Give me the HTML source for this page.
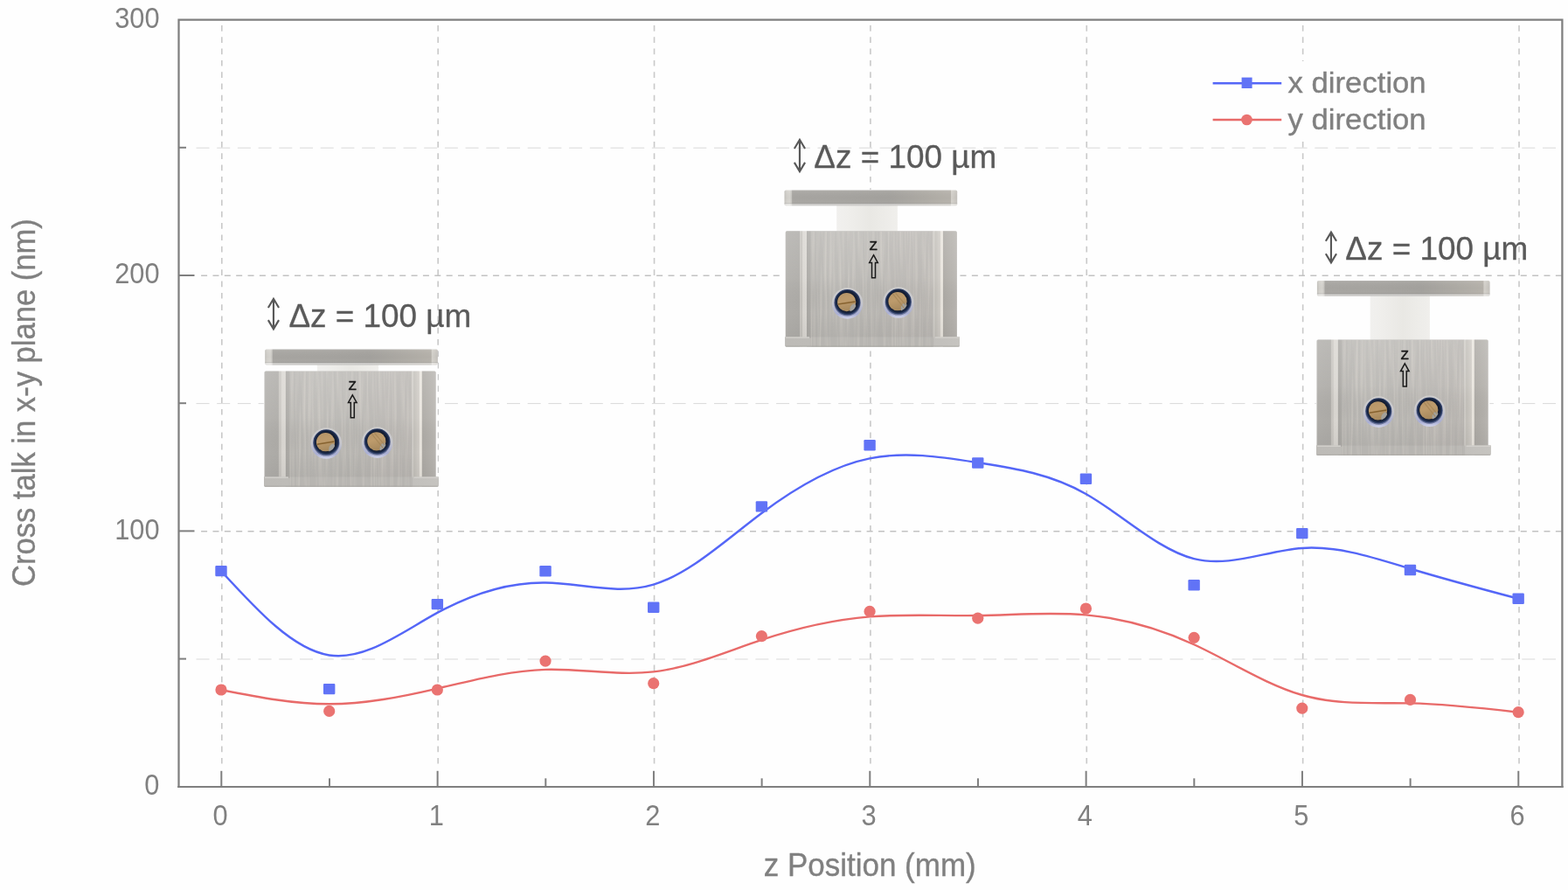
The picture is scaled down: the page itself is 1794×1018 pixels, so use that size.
<!DOCTYPE html>
<html lang="en"><head><meta charset="utf-8"><title>Cross talk in x-y plane vs z Position</title>
<style>
html,body{margin:0;padding:0;background:#fefefe;}
body{width:1794px;height:1018px;overflow:hidden;font-family:"Liberation Sans", sans-serif;}
svg{display:block;}
</style></head><body>
<svg width="1794" height="1018" viewBox="0 0 1794 1018" font-family='"Liberation Sans", sans-serif'>
<rect width="1794" height="1018" fill="#fefefe"/>
<g stroke="#c9c9c9" stroke-width="1.6" fill="none">
<line x1="253.8" y1="29" x2="253.8" y2="879" stroke-dasharray="6.7 6.6"/>
<line x1="501.17" y1="29" x2="501.17" y2="879" stroke-dasharray="6.7 6.6"/>
<line x1="748.54" y1="29" x2="748.54" y2="879" stroke-dasharray="6.7 6.6"/>
<line x1="995.91" y1="29" x2="995.91" y2="879" stroke-dasharray="6.7 6.6"/>
<line x1="1243.28" y1="29" x2="1243.28" y2="879" stroke-dasharray="6.7 6.6"/>
<line x1="1490.65" y1="29" x2="1490.65" y2="879" stroke-dasharray="6.7 6.6"/>
<line x1="1738.02" y1="29" x2="1738.02" y2="879" stroke-dasharray="6.7 6.6"/>
<line x1="230.1" y1="607.7" x2="1787.4" y2="607.7" stroke-dasharray="7 6.36" stroke-width="1.4" stroke="#c2c2c2"/>
<line x1="230.1" y1="315.3" x2="1787.4" y2="315.3" stroke-dasharray="7 6.36" stroke-width="1.4" stroke="#c2c2c2"/>
</g>
<g stroke="#d9d9d9" stroke-width="1" fill="none" stroke-dasharray="15 8.7">
<line x1="224.5" y1="754" x2="1787.4" y2="754"/>
<line x1="224.5" y1="461.6" x2="1787.4" y2="461.6"/>
<line x1="224.5" y1="169.2" x2="1787.4" y2="169.2"/>
</g>
<path d="M253 653.1C294.23 698.1 335.45 743.1 376.68 749.43C417.91 755.77 459.13 723.43 500.36 700.95C541.59 678.47 582.81 665.83 624.04 666.45C665.27 667.07 706.49 680.93 747.72 668.63C788.95 656.33 830.17 617.87 871.4 586.95C912.63 556.03 953.85 532.67 995.08 524.35C1036.31 516.03 1077.53 522.77 1118.76 529.18C1159.99 535.6 1201.21 541.7 1242.44 564.98C1283.67 588.27 1324.89 628.73 1366.12 639.12C1407.35 649.5 1448.57 629.8 1489.8 626.93C1531.03 624.07 1572.25 638.03 1613.48 650.48C1654.71 662.93 1695.93 673.87 1737.16 684.8" fill="none" stroke="#5466f7" stroke-width="2.45"/>
<path d="M253 789C294.23 797.13 335.45 805.27 376.68 805.27C417.91 805.27 459.13 797.13 500.36 787.58C541.59 778.03 582.81 767.07 624.04 765.85C665.27 764.63 706.49 773.17 747.72 768.42C788.95 763.67 830.17 745.63 871.4 731.92C912.63 718.2 953.85 708.8 995.08 705.4C1036.31 702 1077.53 704.6 1118.76 704.03C1159.99 703.47 1201.21 699.73 1242.44 703.42C1283.67 707.1 1324.89 718.2 1366.12 737.22C1407.35 756.23 1448.57 783.17 1489.8 795.02C1531.03 806.87 1572.25 803.63 1613.48 804.4C1654.71 805.17 1695.93 809.93 1737.16 814.7" fill="none" stroke="#e86a69" stroke-width="2.4"/>
<g fill="#6173f6">
<rect x="246.3" y="646.9" width="13.4" height="12.4" rx="1.2"/>
<rect x="369.98" y="781.9" width="13.4" height="12.4" rx="1.2"/>
<rect x="493.66" y="684.9" width="13.4" height="12.4" rx="1.2"/>
<rect x="617.34" y="647" width="13.4" height="12.4" rx="1.2"/>
<rect x="741.02" y="688.6" width="13.4" height="12.4" rx="1.2"/>
<rect x="864.7" y="573.2" width="13.4" height="12.4" rx="1.2"/>
<rect x="988.38" y="503.1" width="13.4" height="12.4" rx="1.2"/>
<rect x="1112.06" y="523.3" width="13.4" height="12.4" rx="1.2"/>
<rect x="1235.74" y="541.6" width="13.4" height="12.4" rx="1.2"/>
<rect x="1359.42" y="663" width="13.4" height="12.4" rx="1.2"/>
<rect x="1483.1" y="603.9" width="13.4" height="12.4" rx="1.2"/>
<rect x="1606.78" y="645.8" width="13.4" height="12.4" rx="1.2"/>
<rect x="1730.46" y="678.6" width="13.4" height="12.4" rx="1.2"/>
</g>
<g fill="#ea7371">
<circle cx="253" cy="789" r="6.6"/>
<circle cx="376.68" cy="813.4" r="6.6"/>
<circle cx="500.36" cy="789" r="6.6"/>
<circle cx="624.04" cy="756.1" r="6.6"/>
<circle cx="747.72" cy="781.7" r="6.6"/>
<circle cx="871.4" cy="727.6" r="6.6"/>
<circle cx="995.08" cy="699.4" r="6.6"/>
<circle cx="1118.76" cy="707.2" r="6.6"/>
<circle cx="1242.44" cy="696" r="6.6"/>
<circle cx="1366.12" cy="729.3" r="6.6"/>
<circle cx="1489.8" cy="810.1" r="6.6"/>
<circle cx="1613.48" cy="800.4" r="6.6"/>
<circle cx="1737.16" cy="814.7" r="6.6"/>
</g>
<g stroke="#7f7f7f" fill="none">
<path d="M204.5 901V22.6H1787.4V900.8" stroke-width="2.25" stroke-linejoin="miter"/>
<line x1="203.2" y1="899.9" x2="1788.7" y2="899.9" stroke-width="2"/>
<g stroke-width="2">
<line x1="253.3" y1="899.8" x2="253.3" y2="881.8"/>
<line x1="376.97" y1="899.8" x2="376.97" y2="890.3"/>
<line x1="500.63" y1="899.8" x2="500.63" y2="881.8"/>
<line x1="624.3" y1="899.8" x2="624.3" y2="890.3"/>
<line x1="747.96" y1="899.8" x2="747.96" y2="881.8"/>
<line x1="871.62" y1="899.8" x2="871.62" y2="890.3"/>
<line x1="995.29" y1="899.8" x2="995.29" y2="881.8"/>
<line x1="1118.96" y1="899.8" x2="1118.96" y2="890.3"/>
<line x1="1242.62" y1="899.8" x2="1242.62" y2="881.8"/>
<line x1="1366.29" y1="899.8" x2="1366.29" y2="890.3"/>
<line x1="1489.95" y1="899.8" x2="1489.95" y2="881.8"/>
<line x1="1613.62" y1="899.8" x2="1613.62" y2="890.3"/>
<line x1="1737.28" y1="899.8" x2="1737.28" y2="881.8"/>
<line x1="204.5" y1="753.6" x2="213" y2="753.6"/>
<line x1="204.5" y1="607.4" x2="222.5" y2="607.4"/>
<line x1="204.5" y1="461.2" x2="213" y2="461.2"/>
<line x1="204.5" y1="315" x2="222.5" y2="315"/>
<line x1="204.5" y1="168.8" x2="213" y2="168.8"/>
</g></g>
<g fill="#808080">
<text transform="translate(252.1 943.95) scale(1 1.105)" font-size="30.8" text-anchor="middle">0</text>
<text transform="translate(499.43 943.95) scale(1 1.105)" font-size="30.8" text-anchor="middle">1</text>
<text transform="translate(746.76 943.95) scale(1 1.105)" font-size="30.8" text-anchor="middle">2</text>
<text transform="translate(994.09 943.95) scale(1 1.105)" font-size="30.8" text-anchor="middle">3</text>
<text transform="translate(1241.42 943.95) scale(1 1.105)" font-size="30.8" text-anchor="middle">4</text>
<text transform="translate(1488.75 943.95) scale(1 1.105)" font-size="30.8" text-anchor="middle">5</text>
<text transform="translate(1736.08 943.95) scale(1 1.105)" font-size="30.8" text-anchor="middle">6</text>
<text transform="translate(182.5 908.9) scale(1 1.105)" font-size="30.8" text-anchor="end">0</text>
<text transform="translate(182.5 616.5) scale(1 1.105)" font-size="30.8" text-anchor="end">100</text>
<text transform="translate(182.5 324.1) scale(1 1.105)" font-size="30.8" text-anchor="end">200</text>
<text transform="translate(182.5 31.7) scale(1 1.105)" font-size="30.8" text-anchor="end">300</text>
</g>
<g fill="#808080">
<text transform="translate(995.2 1001.5) scale(1 1.04)" font-size="35" text-anchor="middle" stroke="#808080" stroke-width="0.35">z Position (mm)</text>
<text transform="translate(40.1 460.6) rotate(-90) scale(1 1.045)" font-size="34.6" text-anchor="middle" stroke="#808080" stroke-width="0.35">Cross talk in x-y plane (nm)</text>
</g>
<rect x="1380" y="70" width="262" height="92" fill="#fefefe"/>
<line x1="1387.6" y1="95.2" x2="1466.2" y2="95.2" stroke="#5466f7" stroke-width="2.45"/>
<rect x="1420.6" y="88.6" width="12" height="12.4" fill="#6173f6"/>
<line x1="1387.6" y1="137" x2="1466.2" y2="137" stroke="#e86a69" stroke-width="2.4"/>
<circle cx="1426.5" cy="137" r="6.3" fill="#ea7371"/>
<g fill="#808080" stroke="#808080" stroke-width="0.4"><text transform="translate(1473.6 106.1) scale(1 0.94)" font-size="34.7" text-anchor="start">x direction</text><text transform="translate(1473.6 148.1) scale(1 0.94)" font-size="34.7" text-anchor="start">y direction</text></g>
<defs>
<linearGradient id="gFace" gradientUnits="userSpaceOnUse" x1="0" x2="199" y1="0" y2="0">
 <stop offset="0" stop-color="#b8b6b2"/><stop offset="0.012" stop-color="#b1afab"/><stop offset="0.082" stop-color="#aeaca8"/>
 <stop offset="0.085" stop-color="#c8c5c0"/><stop offset="0.094" stop-color="#cac7c2"/><stop offset="0.096" stop-color="#c0bdb8"/>
 <stop offset="0.099" stop-color="#d9d6d1"/><stop offset="0.122" stop-color="#dcd9d4"/><stop offset="0.126" stop-color="#aaa8a4"/>
 <stop offset="0.142" stop-color="#adaba7"/><stop offset="0.15" stop-color="#b6b4b0"/><stop offset="0.3" stop-color="#bab8b4"/><stop offset="0.5" stop-color="#b7b5b1"/>
 <stop offset="0.7" stop-color="#bab7b3"/><stop offset="0.849" stop-color="#b8b5b1"/><stop offset="0.852" stop-color="#d2cfca"/>
 <stop offset="0.859" stop-color="#cfccc6"/><stop offset="0.862" stop-color="#c2bfb9"/><stop offset="0.893" stop-color="#d2cec8"/><stop offset="0.896" stop-color="#ece8e1"/>
 <stop offset="0.906" stop-color="#e6e2db"/><stop offset="0.91" stop-color="#adaaa5"/><stop offset="0.96" stop-color="#b4b1ac"/><stop offset="1" stop-color="#bbb8b4"/>
</linearGradient>
<linearGradient id="gShade" x1="0" x2="0" y1="0" y2="1">
 <stop offset="0" stop-color="#fff" stop-opacity="0.16"/><stop offset="0.4" stop-color="#fff" stop-opacity="0.06"/><stop offset="0.7" stop-color="#000" stop-opacity="0.01"/><stop offset="1" stop-color="#000" stop-opacity="0.06"/>
</linearGradient>
<linearGradient id="gLip" gradientUnits="userSpaceOnUse" x1="0" x2="199" y1="0" y2="0">
 <stop offset="0" stop-color="#bdbbb7"/><stop offset="0.14" stop-color="#bebcb8"/><stop offset="0.16" stop-color="#b6b4b0"/><stop offset="0.84" stop-color="#b8b6b2"/><stop offset="0.86" stop-color="#c2c0bc"/><stop offset="1" stop-color="#c6c4c0"/>
</linearGradient>
<linearGradient id="gPlate" gradientUnits="userSpaceOnUse" x1="0" x2="199" y1="0" y2="0">
 <stop offset="0" stop-color="#c4c2bd"/><stop offset="0.012" stop-color="#d3d1cc"/><stop offset="0.03" stop-color="#d8d6d1"/><stop offset="0.04" stop-color="#cac8c3"/>
 <stop offset="0.046" stop-color="#a9a7a3"/><stop offset="0.3" stop-color="#a8a6a2"/><stop offset="0.6" stop-color="#a5a39f"/><stop offset="0.8" stop-color="#afaca6"/>
 <stop offset="0.955" stop-color="#b7b3ac"/><stop offset="0.96" stop-color="#d6d3cd"/><stop offset="0.975" stop-color="#cfccc6"/><stop offset="1" stop-color="#c2bfba"/>
</linearGradient>
<linearGradient id="gPlateV" x1="0" x2="0" y1="0" y2="1">
 <stop offset="0" stop-color="#fff" stop-opacity="0.2"/><stop offset="0.08" stop-color="#fff" stop-opacity="0.03"/><stop offset="0.5" stop-color="#000" stop-opacity="0.02"/><stop offset="0.8" stop-color="#000" stop-opacity="0.0"/><stop offset="0.88" stop-color="#fff" stop-opacity="0.4"/><stop offset="1" stop-color="#fff" stop-opacity="0.45"/>
</linearGradient>
<linearGradient id="gPis" x1="0" x2="1" y1="0" y2="0">
 <stop offset="0" stop-color="#f1f0ee"/><stop offset="0.2" stop-color="#efeeeb"/><stop offset="0.55" stop-color="#e9e8e4"/><stop offset="1" stop-color="#f0efec"/>
</linearGradient>
<linearGradient id="gBrass" x1="0" x2="0.3" y1="0" y2="1">
 <stop offset="0" stop-color="#b59468"/><stop offset="0.5" stop-color="#bd9b6c"/><stop offset="1" stop-color="#a88a5e"/>
</linearGradient>
<radialGradient id="gNavy" cx="0.5" cy="0.47" r="0.5">
 <stop offset="0.72" stop-color="#131b2f"/><stop offset="0.86" stop-color="#1b2947"/><stop offset="0.95" stop-color="#34446f"/><stop offset="1" stop-color="#6a7499"/>
</radialGradient>
<linearGradient id="gRing" x1="0" x2="0" y1="0" y2="1">
 <stop offset="0" stop-color="#cecdcc"/><stop offset="0.5" stop-color="#c6c6cc"/><stop offset="0.85" stop-color="#a9aed4"/><stop offset="1" stop-color="#d3d6ec"/>
</linearGradient>
<filter id="fBrush" x="0" y="0" width="100%" height="100%" color-interpolation-filters="sRGB">
 <feTurbulence type="fractalNoise" baseFrequency="0.35 0.012" numOctaves="2" seed="7" result="n"/>
 <feColorMatrix in="n" type="matrix" values="0 0 0 0 1  0 0 0 0 0.97  0 0 0 0 0.93  0.55 0 0 0 -0.22"/>
 <feComposite in2="SourceGraphic" operator="in"/>
</filter>
<g id="devBody">
 <path d="M2 0H195Q196.6 0 196.6 1.6V121.1H199.6V130.6Q199.6 132.3 198 132.3H1.6Q0 132.3 0 130.7V121.1H0.4V1.6Q0.4 0 2 0Z" fill="url(#gFace)"/>
 <rect x="29.5" y="0.4" width="140" height="131.5" fill="#ffffff" filter="url(#fBrush)"/>
 <rect x="0.4" y="0" width="196.2" height="132.3" rx="1.6" fill="url(#gShade)"/>
 <path d="M0 121.1H28V122.3H171V121.1H199.6V130.6Q199.6 132.3 198 132.3H1.6Q0 132.3 0 130.7Z" fill="url(#gLip)"/>
 <rect x="0.8" y="121.1" width="27" height="1.3" fill="#d4d2ce"/><rect x="171.5" y="121.1" width="27.6" height="1.3" fill="#d4d2ce"/>
 <rect x="29.5" y="121.1" width="140" height="11.2" fill="#b7b5b1"/>
 <rect x="29.5" y="121.1" width="140" height="11.2" fill="#ffffff" filter="url(#fBrush)"/>
 <rect x="0.6" y="131.2" width="198.6" height="1.1" fill="#a5a39f" opacity="0.6"/>
 <text x="101" y="22" font-size="14.6" text-anchor="middle" fill="#1a1a1a" stroke="#1a1a1a" stroke-width="0.7">Z</text>
 <path d="M101.2 27.4L106 36.1H103.2V53.4H99.2V36.1H96.4Z" fill="none" stroke="#1a1a1a" stroke-width="1.5" stroke-linejoin="miter"/>
 <g id="devHole">
  <circle cx="71.2" cy="82.6" r="17.8" fill="url(#gRing)"/>
  <circle cx="71.2" cy="82.0" r="15.2" fill="url(#gNavy)"/>
  <circle cx="70.4" cy="81.3" r="10.6" fill="url(#gBrass)"/>
  <path d="M76.6 84.2Q80.2 81.4 81 85.6Q79.4 90.2 74.4 92Q73.2 87 76.6 84.2Z" fill="#a3a19b"/>
 </g>
 <path d="M60.4 83.8L80.4 80.6" stroke="#86622f" stroke-width="1.5" fill="none"/>
 <use href="#devHole" x="58.3" y="-0.9"/>
 <path d="M123 71.6L136.2 88.2M126.4 71L138 84.6" stroke="#a48555" stroke-width="1.1" fill="none" opacity="0.8"/>
</g>
<g id="devPlate">
 <rect x="0" y="0" width="197.7" height="17.9" rx="1.8" fill="url(#gPlate)"/>
 <rect x="0" y="0" width="197.7" height="17.9" rx="1.8" fill="url(#gPlateV)"/>
</g>
</defs>
<rect x="301.8" y="398.9" width="198.8" height="158.4" fill="#fefefe"/>
<rect x="362.9" y="416" width="70.2" height="8.9" rx="1.2" fill="url(#gPis)"/>
<use href="#devPlate" x="303.2" y="399.5"/>
<use href="#devBody" x="302.1" y="424.4"/>
<rect x="897.2" y="216.8" width="199.2" height="180.4" fill="#fefefe"/>
<rect x="957.2" y="233.9" width="69.7" height="30.9" rx="1.2" fill="url(#gPis)"/>
<use href="#devPlate" x="897.5" y="217.4"/>
<use href="#devBody" x="898.3" y="264.3"/>
<rect x="1505.8" y="320.3" width="198.5" height="201.1" fill="#fefefe"/>
<rect x="1567.7" y="337.4" width="68.2" height="51.6" rx="1.2" fill="url(#gPis)"/>
<use href="#devPlate" x="1506.9" y="320.9"/>
<use href="#devBody" x="1506.1" y="388.5"/>
<path d="M312.95 341.8V376.3M306.85 352L312.95 341.8L319.05 352M306.85 366.1L312.95 376.3L319.05 366.1" stroke="#585858" stroke-width="2.15" fill="none" stroke-linejoin="miter"/>
<text x="330.4" y="373.8" font-size="36.9" fill="#5a5a5a" stroke="#5a5a5a" stroke-width="0.3">Δz = 100 µm</text>
<path d="M914.95 159.8V196.1M908.85 170L914.95 159.8L921.05 170M908.85 185.9L914.95 196.1L921.05 185.9" stroke="#585858" stroke-width="2.15" fill="none" stroke-linejoin="miter"/>
<text x="931.3" y="191.8" font-size="36.9" fill="#5a5a5a" stroke="#5a5a5a" stroke-width="0.3">Δz = 100 µm</text>
<path d="M1522.95 265.6V300.4M1516.85 275.8L1522.95 265.6L1529.05 275.8M1516.85 290.2L1522.95 300.4L1529.05 290.2" stroke="#585858" stroke-width="2.15" fill="none" stroke-linejoin="miter"/>
<text x="1539.3" y="296.8" font-size="36.9" fill="#5a5a5a" stroke="#5a5a5a" stroke-width="0.3">Δz = 100 µm</text>
</svg>
</body></html>
